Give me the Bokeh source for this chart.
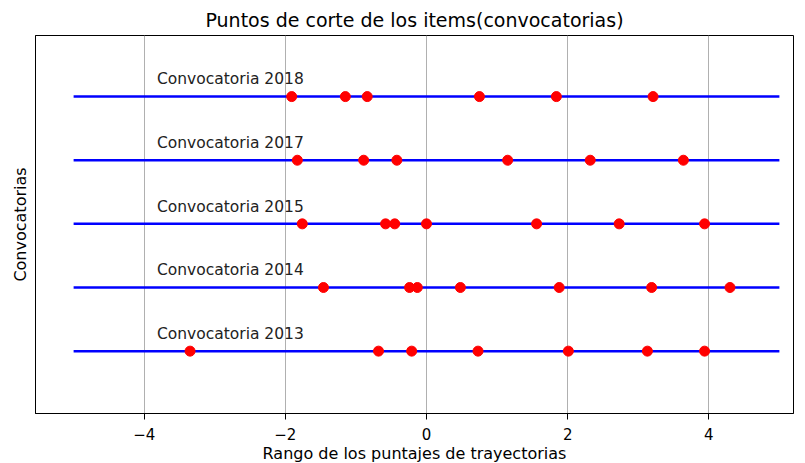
from bokeh.plotting import figure
from bokeh.models import Range1d, FixedTicker, ColumnDataSource
from bokeh.core.properties import value
from bokeh.embed import file_html
from bokeh.resources import INLINE

# ---- data ----
convocatorias = ["Convocatoria 2013", "Convocatoria 2014", "Convocatoria 2015",
                 "Convocatoria 2017", "Convocatoria 2018"]
row_pos = [1, 2, 3, 4, 5]
range_start = [-5, -5, -5, -5, -5]
range_end = [5, 5, 5, 5, 5]
label_x = [-3.82, -3.82, -3.82, -3.82, -3.82]
label_y = [1.27, 2.27, 3.27, 4.27, 5.27]

cortes_2013 = [-3.35, -0.68, -0.21, 0.73, 2.01, 3.13, 3.94]
cortes_2014 = [-1.46, -0.24, -0.13, 0.48, 1.88, 3.19, 4.30]
cortes_2015 = [-1.76, -0.58, -0.45, 0.00, 1.56, 2.73, 3.94]
cortes_2017 = [-1.83, -0.89, -0.42, 1.15, 2.32, 3.64]
cortes_2018 = [-1.91, -1.15, -0.84, 0.75, 1.84, 3.21]
cortes = [cortes_2013, cortes_2014, cortes_2015, cortes_2017, cortes_2018]

x_ticks = [-4, -2, 0, 2, 4]
x_tick_labels = {-4: "\u22124", -2: "\u22122", 0: "0", 2: "2", 4: "4"}

FONT = "DejaVu Sans"

p = figure(width=795, height=465,
           x_range=Range1d(-5.54, 5.20), y_range=Range1d(0.02, 5.96),
           output_backend="svg", toolbar_location=None,
           title="Puntos de corte de los items(convocatorias)",
           x_axis_label="Rango de los puntajes de trayectorias",
           y_axis_label="Convocatorias",
           min_border_left=35, min_border_top=35, min_border_right=2,
           min_border_bottom=10)

p.title.text_font = FONT
p.title.text_font_size = "19px"
p.title.text_font_style = "normal"
p.title.align = "center"
p.title.text_color = "black"
p.title.standoff = 10

p.outline_line_color = "black"
p.outline_line_width = 1
p.outline_line_alpha = 1

p.xaxis.ticker = FixedTicker(ticks=x_ticks)
p.xaxis.major_label_overrides = x_tick_labels
p.xaxis.major_label_text_font = FONT
p.xaxis.major_label_text_font_size = "15px"
p.xaxis.major_label_text_color = "black"
p.xaxis.major_tick_in = 0
p.xaxis.major_tick_out = 6
p.xaxis.minor_tick_line_color = None
p.xaxis.major_label_standoff = 8
p.xaxis.axis_label_standoff = 1
p.xaxis.axis_label_text_font = FONT
p.xaxis.axis_label_text_font_size = "16px"
p.xaxis.axis_label_text_font_style = "normal"
p.xaxis.axis_label_text_color = "black"
p.xaxis.axis_line_color = "black"

p.yaxis.ticker = FixedTicker(ticks=[])
p.yaxis.major_label_text_font_size = "0px"
p.yaxis.major_tick_line_color = None
p.yaxis.minor_tick_line_color = None
p.yaxis.axis_label_standoff = 6
p.yaxis.axis_label_text_font = FONT
p.yaxis.axis_label_text_font_size = "16px"
p.yaxis.axis_label_text_font_style = "normal"
p.yaxis.axis_label_text_color = "black"
p.yaxis.axis_line_color = "black"

p.xgrid.ticker = FixedTicker(ticks=x_ticks)
p.xgrid.grid_line_color = "#b0b0b0"
p.xgrid.grid_line_width = 1
p.ygrid.grid_line_color = None

p.segment(x0=range_start, y0=row_pos, x1=range_end, y1=row_pos,
          line_color="blue", line_width=2.5)

for yv, vals in zip(row_pos, cortes):
    p.scatter(x=vals, y=[yv] * len(vals), size=10, marker="circle",
              fill_color="red", line_color="red")

src = ColumnDataSource(dict(x=label_x, y=label_y, t=convocatorias))
p.text(x="x", y="y", text="t", source=src, text_font=value(FONT),
       text_font_size="15.5px", text_baseline="middle", text_align="left",
       text_color="#222222")

open("out.html", "w").write(file_html(p, INLINE))
